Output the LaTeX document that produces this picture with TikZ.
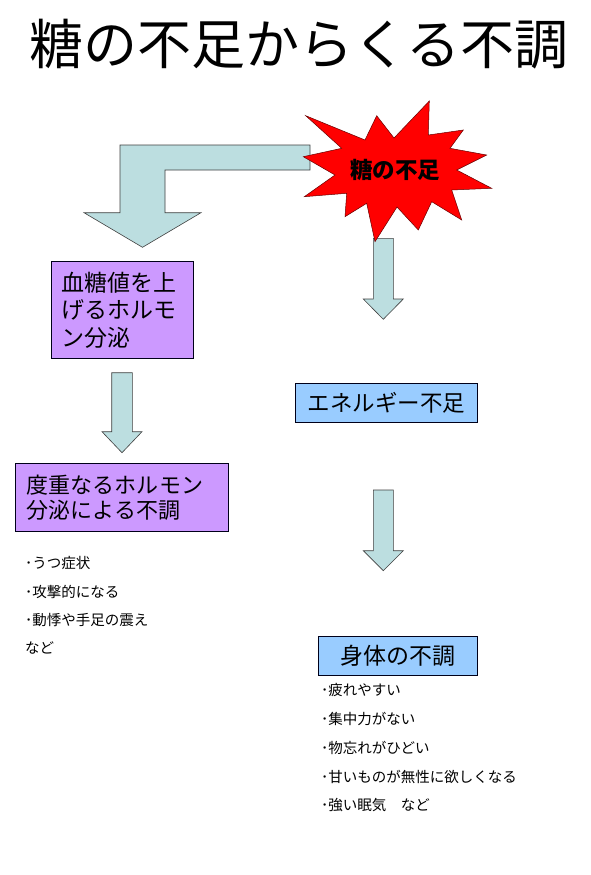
\documentclass[tikz,border=0pt]{standalone}
\usepackage{fontspec}
\setmainfont{Noto Sans CJK JP}
\definecolor{arrowfill}{HTML}{BCDEE0}
\definecolor{purplebox}{HTML}{CC99FF}
\definecolor{bluebox}{HTML}{99CCFF}
\definecolor{burstred}{HTML}{FF0000}
\begin{document}
\begin{tikzpicture}[x=1pt,y=-1pt,
  blockarrow/.style={fill=arrowfill, draw=black!75, line width=0.6pt, line join=miter},
  boxnode/.style={draw=black!90!blue, line width=0.8pt, inner sep=0pt, outer sep=0pt},
  itemtext/.style={anchor=west, inner sep=0pt, font=\fontsize{14.5}{16}\selectfont}
]
\useasboundingbox (0,0) rectangle (590,875);
\fill[white] (0,0) rectangle (590,875);

% title
\node[inner sep=0pt, font=\fontsize{54}{60}\selectfont] (title) at (299,44) {糖の不足からくる不調};

% block arrows
\draw[blockarrow] (310,145) -- (120,145) -- (120,212.7) -- (84,212.7) -- (142.5,247.3)
  -- (201,212.7) -- (165,212.7) -- (165,170) -- (310,170) -- cycle;
\draw[blockarrow] (373.3,238.3) -- (393.3,238.3) -- (393.3,299) -- (403.3,299) -- (383.3,319.3)
  -- (363.3,299) -- (373.3,299) -- cycle;
\draw[blockarrow] (111.7,372.7) -- (132.3,372.7) -- (132.3,431.7) -- (142,431.7) -- (122,452.7)
  -- (102,431.7) -- (111.7,431.7) -- cycle;
\draw[blockarrow] (373.3,490) -- (393.3,490) -- (393.3,550.7) -- (403.3,550.7) -- (383.3,570.7)
  -- (363.3,550.7) -- (373.3,550.7) -- cycle;

% starburst
\filldraw[fill=burstred, draw=black!60!red, line width=0.5pt, line join=miter]
  (305.7,115.7) -- (365,140) -- (376.7,115.7) -- (394,138) -- (429.3,101) -- (428.3,135)
  -- (463.3,130) -- (450,148.3) -- (486.7,155) -- (456.7,170) -- (491.7,188.3) -- (451.7,190)
  -- (461.7,220) -- (431.7,201.7) -- (418.3,230) -- (397,207) -- (375,241.7) -- (366.7,203.3)
  -- (345,216.7) -- (346.7,193.3) -- (304.3,196.7) -- (335,175) -- (303.3,156.7) -- (341.7,148.3)
  -- cycle;
\node[inner sep=0pt, font=\fontsize{22.5}{24}\selectfont\bfseries] (burst) at (395,170) {糖の不足};

% boxes
\node[boxnode, fill=purplebox, minimum width=141.6pt, minimum height=96.6pt,
  text width=121.6pt, align=left, font=\fontsize{23}{27.5}\selectfont] (hormone) at (122.5,310)
  {血糖値を上\\げるホルモ\\ン分泌};
\node[boxnode, fill=purplebox, minimum width=212.6pt, minimum height=67.7pt,
  text width=190pt, align=left, font=\fontsize{22}{25}\selectfont] (overload) at (122,497.2)
  {度重なるホルモン\\分泌による不調};
\node[boxnode, fill=bluebox, minimum width=181.6pt, minimum height=39pt,
  font=\fontsize{22.5}{25}\selectfont] (energy) at (386.5,402.8) {エネルギー不足};
\node[boxnode, fill=bluebox, minimum width=159pt, minimum height=39.7pt,
  font=\fontsize{23}{25}\selectfont] (body) at (397.8,655.8) {身体の不調};

% left list
\node[itemtext] (l1) at (25,563.3) {･うつ症状};
\node[itemtext] (l2) at (25,591.7) {･攻撃的になる};
\node[itemtext] (l3) at (25,620) {･動悸や手足の震え};
\node[itemtext] (l4) at (25,648.3) {など};

% right list
\node[itemtext] (r1) at (321,690) {･疲れやすい};
\node[itemtext] (r2) at (321,719.3) {･集中力がない};
\node[itemtext] (r3) at (321,748.3) {･物忘れがひどい};
\node[itemtext] (r4) at (321,776.7) {･甘いものが無性に欲しくなる};
\node[itemtext] (r5) at (321,805) {･強い眠気　など};
\end{tikzpicture}
\end{document}
